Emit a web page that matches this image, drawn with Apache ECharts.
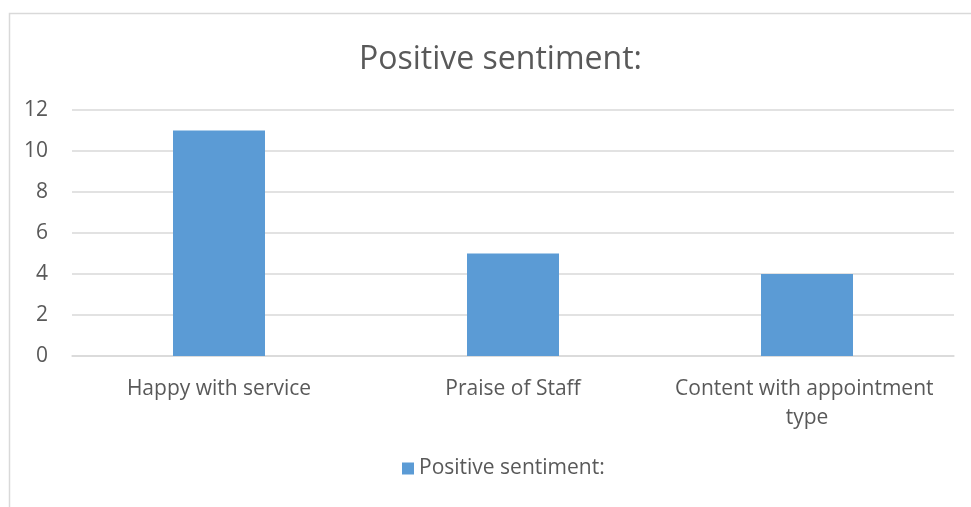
<!DOCTYPE html>
<html>
<head>
<meta charset="utf-8">
<script src="https://cdn.jsdelivr.net/npm/echarts@6/dist/echarts.min.js"></script>
<style>html,body{margin:0;padding:0;background:#fff}#c{width:971px;height:507px}</style>
</head>
<body>
<div id="c"></div>
<script>
var titleText = "Positive sentiment:";
var categories = ["Happy with service", "Praise of Staff", "Content with appointment type"];
var seriesName = "Positive sentiment:";
var values = [11, 5, 4];
var yTicks = [0, 2, 4, 6, 8, 10, 12];

var chart = echarts.init(document.getElementById('c'));
var font = "'Open Sans', sans-serif";
chart.setOption({
  backgroundColor: '#ffffff',
  animation: false,
  graphic: [{
    type: 'rect', left: 7, top: 11, shape: {width: 1000, height: 540},
    style: {fill: 'none', stroke: '#d9d9d9', lineWidth: 1.5}, silent: true
  }],
  title: {
    text: titleText, left: 354, top: 39,
    textStyle: {fontFamily: font, fontSize: 32, fontWeight: 'normal', color: '#595959'}
  },
  legend: {
    bottom: 23, left: 397, itemWidth: 12, itemHeight: 12, itemGap: 6,
    icon: 'rect',
    textStyle: {fontFamily: font, fontSize: 21, color: '#595959'},
    data: [seriesName]
  },
  grid: {left: 72, right: 17, top: 110, bottom: 151, containLabel: false},
  xAxis: {
    type: 'category', data: categories,
    axisLine: {lineStyle: {color: '#d9d9d9', width: 1.5}},
    axisTick: {show: false},
    axisLabel: {fontFamily: font, fontSize: 21, color: '#595959', margin: 19,
      width: 275, overflow: 'break', lineHeight: 29, interval: 0}
  },
  yAxis: {
    type: 'value', min: yTicks[0], max: yTicks[yTicks.length - 1], interval: 2,
    axisLine: {show: false}, axisTick: {show: false},
    splitLine: {lineStyle: {color: '#d9d9d9', width: 1.5}},
    axisLabel: {fontFamily: font, fontSize: 21, color: '#595959', margin: 24}
  },
  series: [{
    name: seriesName, type: 'bar', data: values, barWidth: 92,
    itemStyle: {color: '#5b9bd5'}
  }]
});
</script>
</body>
</html>
